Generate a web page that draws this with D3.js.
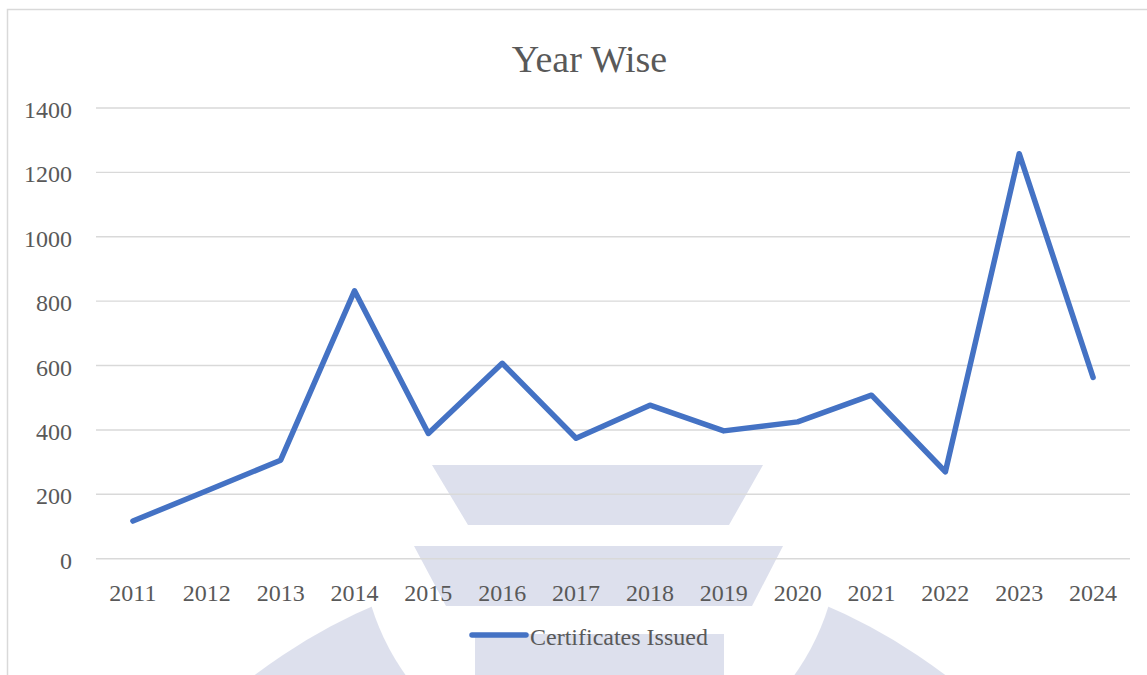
<!DOCTYPE html>
<html>
<head>
<meta charset="utf-8">
<script src="https://cdn.jsdelivr.net/npm/d3@7"></script>
<style>
  body { margin: 0; background: #fff; }
  text { font-family: "Liberation Serif", "Times New Roman", serif; fill: #595959; }
</style>
</head>
<body>
<div class="container"></div>
<script>
// year wise certificates chart

var years = ['2011', '2012', '2013', '2014', '2015', '2016', '2017',
             '2018', '2019', '2020', '2021', '2022', '2023', '2024'];
var certificates = [117, 211, 306, 832, 389, 607, 374, 477, 397, 425, 508, 270, 1258, 563];
var yTicks = [0, 200, 400, 600, 800, 1000, 1200, 1400];

var opts = {
  width: 1147,
  height: 675,
  left: 96,
  right: 1130,
  top: 108,
  bottom: 558.7,
  color: '#4472C4'
};

var svg = d3.select('.container').append('svg')
            .attr('width', opts.width)
            .attr('height', opts.height);

// faint logo in the page background
var wm = svg.append('g').attr('fill', '#dde0ed');
var defs = svg.append('defs');
var mask = defs.append('mask').attr('id', 'ring');
mask.append('rect').attr('width', opts.width).attr('height', opts.height).attr('fill', 'black');
mask.append('circle').attr('cx', 600).attr('cy', 1131).attr('r', 572).attr('fill', 'white');
mask.append('circle').attr('cx', 600).attr('cy', 536).attr('r', 239).attr('fill', 'black');

wm.append('path').attr('d', 'M432,465 L763,465 L729,525 L468,525 Z');
wm.append('path').attr('d', 'M414,546 L783,546 L752,606 L446,606 Z');
wm.append('rect').attr('width', opts.width).attr('height', opts.height).attr('mask', 'url(#ring)');
wm.append('rect').attr('x', 475).attr('y', 634).attr('width', 249).attr('height', 60);

// chart frame
svg.append('rect')
   .attr('x', 7.5).attr('y', 9.5)
   .attr('width', 1200).attr('height', 800)
   .attr('fill', 'none')
   .attr('stroke', '#d9d9d9')
   .attr('stroke-width', 1.5);

var x = d3.scaleBand().domain(years).range([opts.left, opts.right]);
var y = d3.scaleLinear().domain([0, 1400]).range([opts.bottom, opts.top]);

// gridlines + y labels
svg.append('g')
   .selectAll('line')
   .data(yTicks)
   .enter()
   .append('line')
   .attr('x1', opts.left).attr('x2', opts.right)
   .attr('y1', function(d){ return y(d); })
   .attr('y2', function(d){ return y(d); })
   .attr('stroke', '#d9d9d9')
   .attr('stroke-width', 1.4);

svg.append('g')
   .selectAll('text')
   .data(yTicks)
   .enter()
   .append('text')
   .attr('x', 72)
   .attr('y', function(d){ return y(d) + 10; })
   .attr('text-anchor', 'end')
   .attr('font-size', 24)
   .text(function(d){ return d; });

// x labels
svg.append('g')
   .selectAll('text')
   .data(years)
   .enter()
   .append('text')
   .attr('x', function(d){ return x(d) + x.bandwidth() / 2; })
   .attr('y', 601)
   .attr('text-anchor', 'middle')
   .attr('font-size', 24)
   .text(function(d){ return d; });

// the line
var line = d3.line()
             .x(function(d, i){ return x(years[i]) + x.bandwidth() / 2; })
             .y(function(d){ return y(d); });

svg.append('path')
   .datum(certificates)
   .attr('d', line)
   .attr('fill', 'none')
   .attr('stroke', opts.color)
   .attr('stroke-width', 5.5)
   .attr('stroke-linejoin', 'round')
   .attr('stroke-linecap', 'round');

// title
svg.append('text')
   .attr('x', 589.5).attr('y', 72)
   .attr('text-anchor', 'middle')
   .attr('font-size', 38)
   .text('Year Wise');

// legend
svg.append('line')
   .attr('x1', 472).attr('x2', 526)
   .attr('y1', 635).attr('y2', 635)
   .attr('stroke', opts.color)
   .attr('stroke-width', 5.5)
   .attr('stroke-linecap', 'round');

svg.append('text')
   .attr('x', 530).attr('y', 645)
   .attr('font-size', 24)
   .text('Certificates Issued');
</script>
</body>
</html>
